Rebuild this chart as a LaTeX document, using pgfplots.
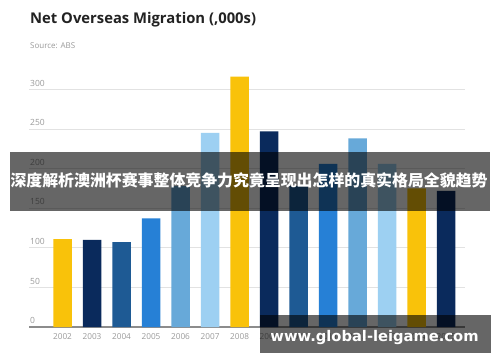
\documentclass[border=0pt]{standalone}
\usepackage{pgfplots}
\pgfplotsset{compat=1.18}
\usepackage{fontspec}
\setmainfont{Open Sans}
\newfontfamily\cjk{Noto Sans CJK SC}
\newfontfamily\dv{DejaVu Sans}
\definecolor{cyel}{HTML}{F9C20A}
\definecolor{cnavy}{HTML}{0A2A5C}
\definecolor{cdark}{HTML}{1E5A94}
\definecolor{cblue}{HTML}{2680D6}
\definecolor{cmid}{HTML}{67A9D9}
\definecolor{clight}{HTML}{9DD0F2}
\definecolor{titlec}{HTML}{222222}
\definecolor{labc}{HTML}{9A9A9A}
\definecolor{gridc}{HTML}{E2E2E2}
\definecolor{basec}{HTML}{8C8C8C}
\begin{document}
\begin{tikzpicture}[x=1pt,y=1pt]
\path[use as bounding box, fill=white] (0,0) rectangle (500,362);
\node[anchor=base west, inner sep=0pt, text=titlec, font=\bfseries\fontsize{14.8}{17}\selectfont] at (30,338) {Net Overseas Migration (,000s)};
\node[anchor=base west, inner sep=0pt, text=labc, font=\fontsize{8}{9}\selectfont] at (30,313.7) {Source: ABS};
\begin{axis}[
  at={(29pt,35pt)}, anchor=south west, scale only axis,
  width=436pt, height=261.4pt,
  xmin=-1.136, xmax=13.64, ymin=0, ymax=330,
  axis line style={draw=none},
  ybar, bar width=18.5pt, bar shift=0pt,
  xtick={0,...,13},
  xticklabels={2002,2003,2004,2005,2006,2007,2008,2009,2010,2011,2012,2013,2014,2015},
  ytick={50,100,150,200,250,300},
  extra y ticks={0},
  extra y tick style={grid style={draw=basec, line width=1.2pt}},
  ymajorgrids, grid style={draw=gridc, line width=0.9pt},
  major tick length=0pt, tick style={draw=none},
  yticklabel style={anchor=south west, inner sep=0pt, xshift=1pt, yshift=3pt, text=labc, font=\fontsize{8.5}{9}\selectfont},
  xticklabel style={anchor=north, inner sep=0pt, yshift=-6pt, text=labc, font=\fontsize{8.2}{9}\selectfont},
  /pgf/number format/assume math mode=true,
  clip=false,
]
\addplot[fill=cyel, draw=none] coordinates {(0,111) (6,316) (12,175)};
\addplot[fill=cnavy, draw=none] coordinates {(1,110) (7,247) (13,172)};
\addplot[fill=cdark, draw=none] coordinates {(2,107) (8,178)};
\addplot[fill=cblue, draw=none] coordinates {(3,137) (9,206)};
\addplot[fill=cmid, draw=none] coordinates {(4,178) (10,238)};
\addplot[fill=clight, draw=none] coordinates {(5,245) (11,206)};
\end{axis}
\fill[black, opacity=0.6] (10,151) rectangle (490,210);
\node[text=white, inner sep=0pt, font=\cjk\bfseries\fontsize{15.9}{17}\selectfont] at (249,182) {深度解析澳洲杯赛事整体竞争力究竟呈现出怎样的真实格局全貌趋势};
\fill[black, opacity=0.6] (260,9.3) rectangle (490.7,47);
\node[text=white, inner sep=0pt, anchor=base, font=\dv\bfseries\fontsize{14.7}{16}\selectfont] at (374.5,20.3) {www.global-leigame.com};
\end{tikzpicture}
\end{document}
